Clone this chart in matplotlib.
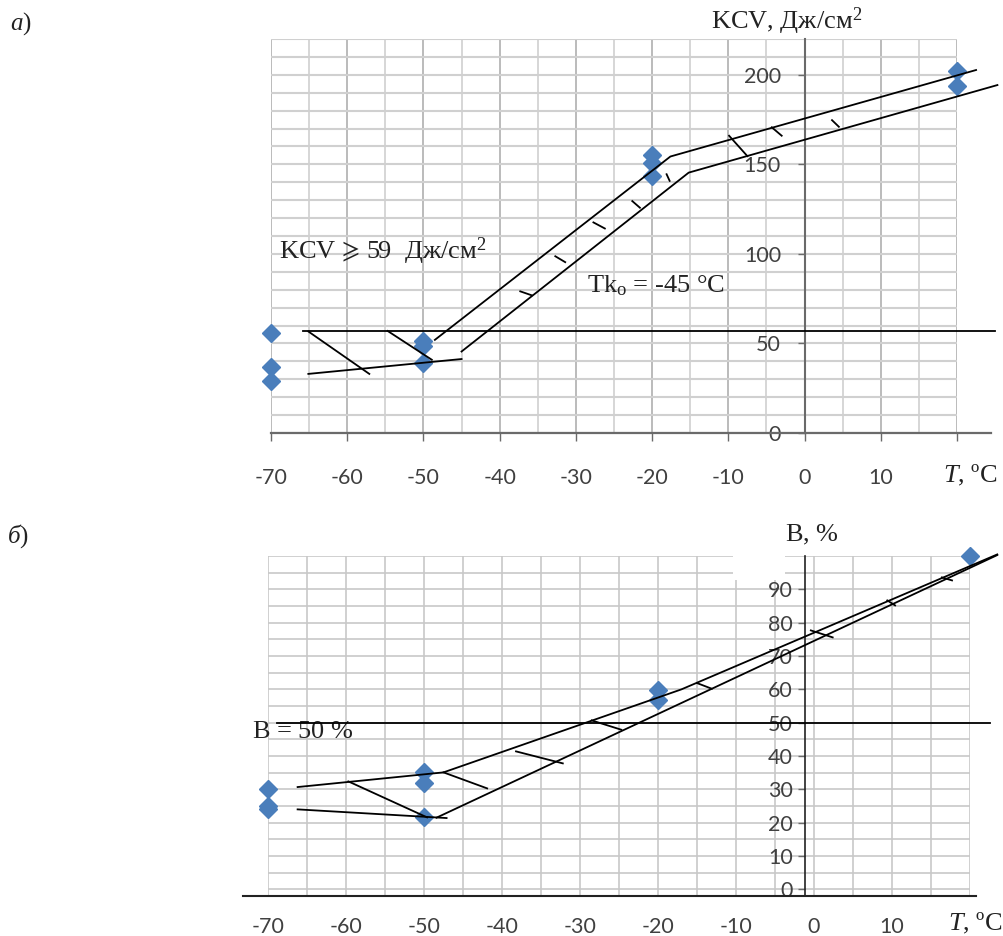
import matplotlib
matplotlib.use('Agg')
import matplotlib.pyplot as plt
from matplotlib.ticker import MultipleLocator
from matplotlib.patches import Rectangle

plt.rcParams['font.family'] = ['Lato', 'DejaVu Sans']
plt.rcParams['mathtext.fontset'] = 'custom'
plt.rcParams['mathtext.rm'] = 'Liberation Serif'
plt.rcParams['mathtext.it'] = 'Liberation Serif:italic'
plt.rcParams['mathtext.fallback'] = 'stix'

BLUE = '#4a7ebb'
TXT = '#404040'
AXC = '#6a6a6a'
SERIF = 'Liberation Serif'

# ---------- а) KCV vs T ----------
kcv_t = [-70, -70, -70, -50, -50, -50, -20, -20, -20, 20, 20]
kcv_val = [56, 37, 29, 51.5, 48.5, 39, 155.5, 150.5, 143.5, 202, 194]

# scatter band drawn by hand
kcv_upper_t = [-48.5, -17.6, 22.5]
kcv_upper_v = [52, 154.4, 202.7]
kcv_lower_t = [-45, -15.2, 25.3]
kcv_lower_v = [45.5, 145.4, 194.3]
kcv_low_t = [-65.1, -45]
kcv_low_v = [33, 41.3]
kcv_crit = 57
kcv_crit_t = [-65.8, 25]
kcv_hatch = [(-65.1, 56.7, -57.1, 33), (-54.7, 57, -48.9, 40.9),
             (-37.3, 79.1, -35.8, 76.9), (-32.7, 98.7, -31.4, 95.4),
             (-27.7, 117.6, -26.2, 114.2), (-22.6, 129.5, -21.6, 125.8),
             (-18.1, 144.5, -17.7, 140.8), (-9.9, 166, -7.5, 154.6),
             (-4.3, 170.7, -3.0, 166), (3.6, 174.7, 4.5, 171)]
kcv_xticks = list(range(-70, 21, 10))
kcv_yticks = list(range(0, 201, 50))

# ---------- б) B vs T ----------
b_t = [-70, -70, -70, -50, -50, -50, -20, -20, 20]
b_val = [30, 25, 24.2, 35.2, 32, 21.7, 59.7, 56.9, 100]

b_upper_t = [-66.2, -47.5, -17, 23.5]
b_upper_v = [30.7, 35.1, 60, 100.5]
b_lower_t = [-48.4, 23.5]
b_lower_v = [21.5, 100.3]
b_low_t = [-66.2, -47.1]
b_low_v = [24, 21.4]
b_crit = 50
b_crit_t = [-68.8, 22.6]
b_hatch = [(-59.7, 32.4, -49.6, 21.6), (-47.5, 35.1, -41.9, 30.3),
           (-38.2, 41.4, -32.2, 37.8), (-28.5, 50.7, -24.7, 47.9),
           (-15.0, 61.9, -13.1, 60.2), (-0.4, 77.7, 2.4, 75.6),
           (9.4, 86.7, 10.4, 85.2), (16.4, 93.6, 17.7, 92.7)]
b_xticks = list(range(-70, 21, 10))
b_yticks = list(range(0, 91, 10))


def draw_band(ax, lines, hatch):
    for xs, ys in lines:
        ax.plot(xs, ys, color='black', lw=1.3, zorder=4, clip_on=False)
    for x0, y0, x1, y1 in hatch:
        ax.plot([x0, x1], [y0, y1], color='black', lw=1.3, zorder=4, clip_on=False)


fig = plt.figure(figsize=(10.04, 9.36), dpi=100)

# ===== top chart =====
ax1 = fig.add_axes([0.2699, 0.5374, 0.6833, 0.4209])
ax1.set_xlim(-70, 20)
ax1.set_ylim(0, 220)
for s in ['top', 'right', 'bottom']:
    ax1.spines[s].set_visible(False)
ax1.spines['left'].set_position(('data', 0))
ax1.spines['left'].set_color(AXC)
ax1.spines['left'].set_linewidth(1.5)
ax1.set_xticks(kcv_xticks)
ax1.set_xticklabels([str(v) if v != 20 else '' for v in kcv_xticks])
ax1.xaxis.set_minor_locator(MultipleLocator(5))
ax1.set_yticks(kcv_yticks)
ax1.yaxis.set_minor_locator(MultipleLocator(10))
ax1.tick_params(axis='x', which='major', direction='out', length=6, width=1,
                color=AXC, pad=19, labelsize=15.5, labelcolor=TXT)
ax1.tick_params(axis='y', which='major', direction='out', length=5, width=1,
                color=AXC, pad=12, labelsize=15.5, labelcolor=TXT)
ax1.tick_params(which='minor', length=0)
ax1.grid(which='major', axis='x', color='#a8a8a8', lw=1.1)
ax1.grid(which='minor', axis='x', color='#cccccc', lw=1.1)
ax1.grid(which='both', axis='y', color='#d0d0d0', lw=1.5)
ax1.plot([-70, 24.5], [0, 0], color=AXC, lw=1.6, clip_on=False, zorder=3)

ax1.plot(kcv_t, kcv_val, linestyle='none', marker='D', ms=9.5, color=BLUE,
         clip_on=False, zorder=3.5)
ax1.plot(kcv_crit_t, [kcv_crit, kcv_crit], color='black', lw=1.3, zorder=4, clip_on=False)
draw_band(ax1, [(kcv_upper_t, kcv_upper_v), (kcv_lower_t, kcv_lower_v),
                (kcv_low_t, kcv_low_v)], kcv_hatch)

ax1.text(-2.4, 230, r'KCV, Дж/см$^{2}$', family=SERIF, fontsize=19, color='#222222',
         ha='center', va='center', clip_on=False)
ax1.text(-69, 101.3, r'KCV$\,\geqslant\,$59  Дж/см$^{2}$', family=SERIF, fontsize=19,
         color='#222222', ha='left', va='center')
ax1.text(-28.5, 78.4, r'Tk$_{\mathrm{o}}$ = -45 °C', family=SERIF,
         fontsize=19, color='#222222', ha='left', va='baseline')
ax1.text(25.3, -27.4, r'$\mathit{T}$, ºC', family=SERIF, fontsize=19,
         color='#222222', ha='right', va='baseline', clip_on=False)

# ===== bottom chart =====
ax2 = fig.add_axes([0.2669, 0.0427, 0.6992, 0.3632])
ax2.set_xlim(-70, 20)
ax2.set_ylim(-2, 100)
for s in ['top', 'right', 'bottom']:
    ax2.spines[s].set_visible(False)
ax2.spines['bottom'].set_position(('data', -2))
ax2.spines['left'].set_position(('data', -1.2))
ax2.spines['left'].set_color('#222222')
ax2.spines['left'].set_linewidth(1.2)
ax2.set_xticks(b_xticks)
ax2.set_xticklabels([str(v) if v != 20 else '' for v in b_xticks])
ax2.xaxis.set_minor_locator(MultipleLocator(5))
ax2.set_yticks(b_yticks)
ax2.yaxis.set_minor_locator(MultipleLocator(5))
ax2.tick_params(axis='x', which='major', length=0, pad=15, labelsize=15.5, labelcolor=TXT)
ax2.tick_params(axis='y', which='major', direction='out', length=5, width=1,
                color=AXC, pad=3.5, labelsize=15.5, labelcolor=TXT)
ax2.tick_params(which='minor', length=0)
ax2.grid(which='both', color='#c8c8c8', lw=1.2)
ax2.plot([-73.2, 20.8], [-2, -2], color='#222222', lw=1.5, clip_on=False, zorder=3)
ax2.add_patch(Rectangle((-10.4, 92.8), 6.7, 7.2, facecolor='white', edgecolor='none',
                        zorder=1.6))

ax2.plot(b_t, b_val, linestyle='none', marker='D', ms=9.5, color=BLUE,
         clip_on=False, zorder=3.5)
ax2.plot(b_crit_t, [b_crit, b_crit], color='black', lw=1.3, zorder=4, clip_on=False)
draw_band(ax2, [(b_upper_t, b_upper_v), (b_lower_t, b_lower_v),
                (b_low_t, b_low_v)], b_hatch)

ax2.text(-3.7, 104.5, r'В, $\mathit{\%}$', family=SERIF, fontsize=19,
         color='#222222', ha='left', va='baseline', clip_on=False)
ax2.text(-72, 45.4, r'В = 50 $\mathit{\%}$', family=SERIF, fontsize=19,
         color='#222222', ha='left', va='baseline', clip_on=False)
ax2.text(24.1, -12.2, r'$\mathit{T}$, ºC', family=SERIF, fontsize=19,
         color='#222222', ha='right', va='baseline', clip_on=False)

fig.text(10 / 1004, 1 - 30 / 936, r'$\mathit{а}$)', family=SERIF,
         fontsize=18, color='#222222', ha='left', va='baseline')
fig.text(7 / 1004, 1 - 543 / 936, r'$\mathit{б}$)', family=SERIF,
         fontsize=18, color='#222222', ha='left', va='baseline')

fig.savefig('out.png', dpi=100)
